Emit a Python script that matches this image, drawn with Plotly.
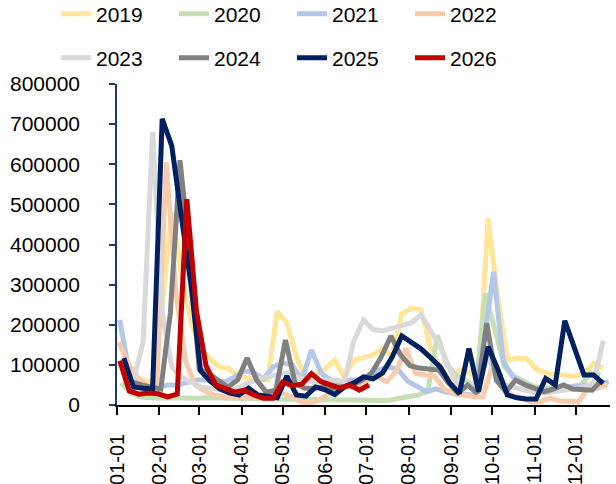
import pandas as pd
import plotly.graph_objects as go

# weekly series (values in thousands); each year starts on its own first-week date
years = ["2019", "2020", "2021", "2022", "2023", "2024", "2025", "2026"]
start_dates = ["2000-01-06", "2000-01-04", "2000-01-03", "2000-01-02",
               "2000-01-06", "2000-01-05", "2000-01-06", "2000-01-03"]

v2019 = [110, 70, 62, 58, 250, 480, 330, 210, 140, 115,
         95, 90, 70, 67, 64, 62, 233, 205, 120, 62,
         75, 90, 112, 70, 112, 117, 125, 140, 121, 228,
         241, 237, 141, 95, 62, 87, 83, 62, 465, 270,
         112, 116, 116, 90, 79, 75, 75, 71, 79, 104,
         91]
v2020 = [55, 30, 20, 18, 17, 18, 17, 16, 17, 18,
         17, 16, 16, 16, 15, 15, 15, 15, 15, 13,
         13, 12, 12, 12, 12, 12, 12, 11, 12, 17,
         20, 25, 35, 174, 100, 73, 60, 46, 278, 190,
         95, 72, 60, 46, 42, 42, 45, 46, 50, 80,
         75]
v2021 = [212, 80, 50, 45, 45, 50, 50, 55, 62, 62,
         60, 58, 70, 85, 80, 65, 95, 105, 100, 62,
         137, 80, 62, 55, 62, 62, 70, 87, 95, 90,
         60, 45, 33, 40, 32, 28, 25, 25, 160, 332,
         110, 70, 55, 42, 38, 37, 42, 46, 48, 50,
         55, 58]
v2022 = [157, 105, 70, 45, 40, 605, 280, 110, 50, 35,
         25, 20, 22, 20, 22, 25, 28, 30, 22, 8,
         5, 12, 30, 37, 45, 45, 62, 70, 58, 85,
         141, 79, 75, 71, 40, 28, 25, 20, 20, 96,
         46, 25, 17, 8, 8, 17, 10, 8, 8, 42,
         42, 50]
v2023 = [90, 60, 155, 680, 230, 95, 70, 58, 45, 42,
         38, 35, 45, 55, 65, 70, 75, 80, 70, 62,
         55, 60, 62, 58, 160, 212, 188, 185, 193, 198,
         205, 225, 185, 145, 90, 40, 45, 62, 120, 60,
         48, 42, 35, 30, 30, 32, 37, 40, 45, 55,
         160]
v2024 = [95, 57, 50, 45, 40, 230, 610, 380, 90, 78,
         60, 45, 62, 117, 62, 32, 37, 162, 55, 42,
         42, 45, 42, 45, 50, 62, 80, 120, 172, 125,
         98, 92, 90, 87, 55, 30, 50, 29, 204, 62,
         33, 62, 50, 40, 33, 40, 50, 40, 37, 37,
         62]
v2025 = [117, 45, 42, 40, 713, 646, 470, 300, 85, 60,
         40, 30, 25, 42, 25, 20, 18, 72, 25, 22,
         45, 38, 26, 45, 55, 70, 65, 80, 120, 172,
         155, 140, 118, 95, 55, 29, 141, 33, 145, 90,
         25, 18, 15, 15, 66, 50, 210, 140, 75, 75,
         54]
v2026 = [110, 35, 27, 30, 28, 20, 27, 513, 235, 98,
         50, 42, 32, 37, 25, 17, 17, 57, 48, 52,
         78, 58, 50, 42, 50, 37, 50]

series = [v2019, v2020, v2021, v2022, v2023, v2024, v2025, v2026]
colors = ["#FFE699", "#C5E0B4", "#B4C7E7", "#F8CBAD",
          "#D9D9D9", "#808080", "#002060", "#C00000"]

month_ticks = pd.date_range("2000-01-01", "2000-12-01", freq="MS")
tick_text = [d.strftime("%m-%d") for d in month_ticks]

FONT = "Liberation Sans"

fig = go.Figure()
for i, (name, vals) in enumerate(zip(years, series)):
    x = pd.date_range(start_dates[i], periods=len(vals), freq="7D")
    y = [v * 1000 for v in vals]
    fig.add_trace(go.Scatter(
        x=x, y=y, mode="lines", name=name,
        line=dict(color=colors[i], width=5),
        legend="legend" if i < 4 else "legend2",
    ))

legend_common = dict(
    orientation="h", xref="container", yref="container",
    xanchor="left", yanchor="middle",
    font=dict(family=FONT, size=21, color="black"),
    bgcolor="rgba(0,0,0,0)", borderwidth=0,
    entrywidth=73, entrywidthmode="pixels",
    itemwidth=30,
)

fig.update_layout(
    width=616, height=484,
    margin=dict(l=117, r=6, t=84, b=79, pad=0, autoexpand=False),
    paper_bgcolor="white", plot_bgcolor="white",
    font=dict(family=FONT, size=21, color="black"),
    showlegend=True,
    legend=dict(x=56 / 616, y=1 - 14 / 484, **legend_common),
    legend2=dict(x=56 / 616, y=1 - 58 / 484, **legend_common),
    xaxis=dict(
        type="date",
        range=["2000-01-01", "2000-12-26"],
        tickvals=month_ticks, ticktext=tick_text,
        tickangle=-90,
        ticks="outside", ticklen=8, tickwidth=1.5, tickcolor="black",
        showline=True, linecolor="black", linewidth=1.5,
        showgrid=False, zeroline=False, automargin=False,
        tickfont=dict(family=FONT, size=20, color="black"),
        ticklabelstandoff=11,
    ),
    yaxis=dict(
        range=[0, 800000], dtick=100000, tickformat="d",
        ticks="outside", ticklen=6, tickwidth=1.5, tickcolor="#1F3864",
        showline=True, linecolor="#1F3864", linewidth=1.5,
        showgrid=False, zeroline=False, automargin=False,
        tickfont=dict(family=FONT, size=21, color="black"),
        ticklabelstandoff=25,
    ),
)

fig.write_html("out.html", config={"displayModeBar": False},
               post_script="document.body.style.margin='0px';")
